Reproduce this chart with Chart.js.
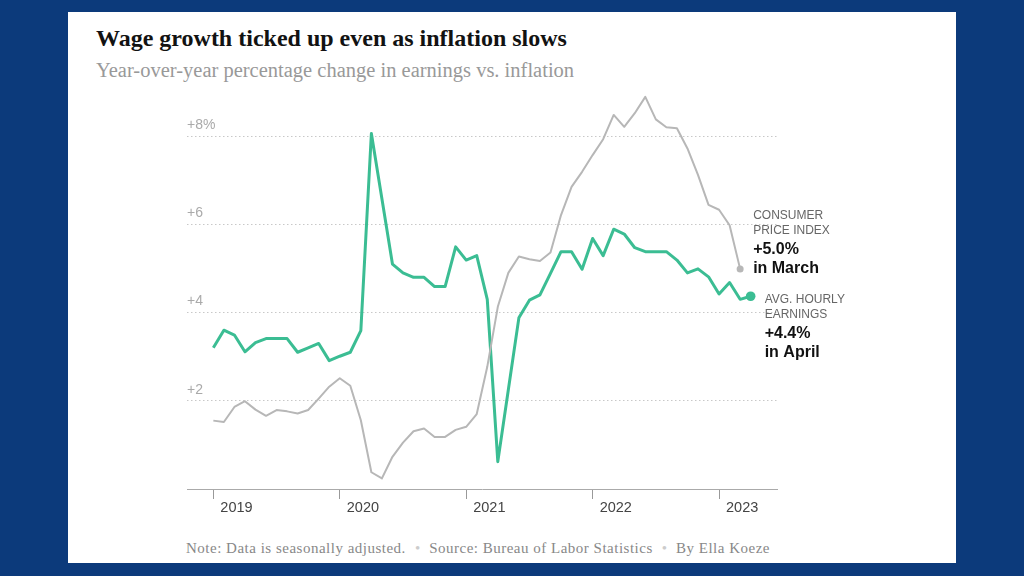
<!DOCTYPE html>
<html>
<head>
<meta charset="utf-8">
<script src="https://cdn.jsdelivr.net/npm/chart.js@4.4.0/dist/chart.umd.min.js"></script>
<style>
  html, body { margin: 0; padding: 0; }
  body { width: 1024px; height: 576px; background: #0c3a7b; position: relative; overflow: hidden; }
  #panel { position: absolute; left: 68px; top: 12px; width: 888px; height: 551px; background: #fff; }
  .txt { position: absolute; white-space: nowrap; margin: 0; }
  #title { left: 96px; top: 26px; font: bold 24px/24px "Liberation Serif", serif; color: #121212; }
  #subtitle { left: 96px; top: 60px; font: 20.5px/20.5px "Liberation Serif", serif; color: #999; }
  #footer { left: 186px; top: 541px; font: 15px/15px "Liberation Serif", serif; letter-spacing: 0.5px; color: #888; }
  #footer .sep { color: #ccc; margin: 0 9px; letter-spacing: 0; }
  #chartBox { position: absolute; left: 0; top: 0; width: 1024px; height: 576px; }
</style>
</head>
<body>
<div id="panel"></div>
<h1 class="txt" id="title">Wage growth ticked up even as inflation slows</h1>
<p class="txt" id="subtitle">Year-over-year percentage change in earnings vs. inflation</p>
<p class="txt" id="footer">Note: Data is seasonally adjusted.<span class="sep">•</span>Source: Bureau of Labor Statistics<span class="sep">•</span>By Ella Koeze</p>
<div id="chartBox"><canvas id="wageChart" width="1024" height="576"></canvas></div>

<script>
// 月番号 0 = 2019年1月
const yearStarts = [0, 12, 24, 36, 48];
const yearLabels = ['2019', '2020', '2021', '2022', '2023'];

const yTickValues = [0, 2, 4, 6, 8];
const yTickLabels = ['', '+2', '+4', '+6', '+8%'];

// 平均時給（前年比 %） 2019年1月〜2023年4月
const wages = [
  3.20, 3.60, 3.49, 3.11, 3.32, 3.41, 3.41, 3.41, 3.10, 3.20, 3.30, 2.91,
  3.01, 3.10, 3.59, 8.06, 6.58, 5.10, 4.90, 4.80, 4.80, 4.59, 4.59, 5.49,
  5.19, 5.29, 4.30, 0.62, 2.25, 3.88, 4.28, 4.40, 4.89, 5.38, 5.38, 4.98,
  5.68, 5.29, 5.89, 5.78, 5.47, 5.38, 5.38, 5.38, 5.19, 4.90, 4.99, 4.81,
  4.42, 4.68, 4.30, 4.37
];

// 消費者物価指数（前年比 %） 2019年1月〜2023年3月
const cpi = [
  1.55, 1.52, 1.86, 1.99, 1.80, 1.66, 1.79, 1.76, 1.71, 1.79, 2.05, 2.32,
  2.51, 2.34, 1.56, 0.38, 0.24, 0.73, 1.05, 1.31, 1.37, 1.18, 1.18, 1.34,
  1.41, 1.70, 2.77, 4.13, 4.90, 5.27, 5.21, 5.17, 5.36, 6.21, 6.85, 7.19,
  7.57, 7.93, 8.48, 8.21, 8.52, 8.89, 8.38, 8.20, 8.18, 7.72, 7.12, 6.44,
  6.33, 5.98, 4.99
];

const cpiNote = ['CONSUMER', 'PRICE INDEX', '+5.0%', 'in March'];
const wageNote = ['AVG. HOURLY', 'EARNINGS', '+4.4%', 'in April'];

const GREEN = '#3bbd93';
const GRAY = '#b7b7b7';

function toPoints(arr) {
  return arr.map((v, i) => ({ x: i, y: v }));
}
function lastOnly(arr, r) {
  return arr.map((v, i) => i === arr.length - 1 ? r : 0);
}

// 線の終点に注記を描くプラグイン
const endNotes = {
  id: 'endNotes',
  afterDatasetsDraw(chart) {
    const ctx = chart.ctx;
    const drawNote = (datasetIndex, lines, dx, offsets) => {
      const meta = chart.getDatasetMeta(datasetIndex);
      const pt = meta.data[meta.data.length - 1];
      ctx.save();
      ctx.textAlign = 'left';
      ctx.textBaseline = 'alphabetic';
      lines.forEach((line, i) => {
        if (i < 2) {
          ctx.font = '12px "Liberation Sans", Arial, sans-serif';
          ctx.fillStyle = '#666';
        } else {
          ctx.font = 'bold 16px "Liberation Sans", Arial, sans-serif';
          ctx.fillStyle = '#111';
        }
        ctx.fillText(line, pt.x + dx, pt.y + offsets[i]);
      });
      ctx.restore();
    };
    drawNote(0, cpiNote, 13, [-50, -35, -15, 4]);
    drawNote(1, wageNote, 14, [7, 22, 42, 61]);
  }
};

const chartConfig = {
  type: 'line',
  data: {
    datasets: [
      {
        label: 'Consumer price index',
        data: toPoints(cpi),
        borderColor: GRAY,
        borderWidth: 2,
        pointRadius: lastOnly(cpi, 3.5),
        pointBackgroundColor: GRAY,
        pointBorderWidth: 0,
        tension: 0,
        borderJoinStyle: 'round'
      },
      {
        label: 'Avg. hourly earnings',
        data: toPoints(wages),
        borderColor: GREEN,
        borderWidth: 3,
        pointRadius: lastOnly(wages, 4.8),
        pointBackgroundColor: GREEN,
        pointBorderWidth: 0,
        tension: 0,
        borderJoinStyle: 'round'
      }
    ]
  },
  options: {
    responsive: false,
    animation: false,
    devicePixelRatio: 1,
    layout: { padding: { left: 187, right: 247, top: 92, bottom: 47 } },
    plugins: { legend: { display: false }, tooltip: { enabled: false } },
    scales: {
      x: {
        type: 'linear',
        min: -2.5,
        max: 53.5,
        afterBuildTicks: s => { s.ticks = yearStarts.map(v => ({ value: v })); },
        afterFit: s => { s.height = 40; },
        grid: { display: true, drawOnChartArea: false, drawTicks: true, tickLength: 10, tickColor: '#999', tickWidth: 1 },
        border: { display: true, color: '#aaa', width: 1 },
        ticks: {
          align: 'start',
          labelOffset: 7,
          padding: 0,
          maxRotation: 0,
          autoSkip: false,
          color: '#444',
          font: { family: '"Liberation Sans", Arial, sans-serif', size: 14.5 },
          callback: v => yearLabels[yearStarts.indexOf(v)]
        }
      },
      y: {
        min: 0,
        max: 9,
        afterBuildTicks: s => { s.ticks = yTickValues.map(v => ({ value: v })); },
        afterFit: s => { s.width = 0; },
        grid: {
          drawTicks: false,
          lineWidth: 1,
          color: c => (c.tick && c.tick.value === 0) ? 'rgba(0,0,0,0)' : '#c8c8c8'
        },
        border: { display: false, dash: [1.5, 2.5] },
        ticks: {
          mirror: true,
          padding: 0,
          labelOffset: -11,
          color: '#aaa',
          font: { family: '"Liberation Sans", Arial, sans-serif', size: 14 },
          callback: v => yTickLabels[yTickValues.indexOf(v)]
        }
      }
    }
  },
  plugins: [endNotes]
};

const wageChart = new Chart(document.getElementById('wageChart'), chartConfig);
</script>
</body>
</html>
